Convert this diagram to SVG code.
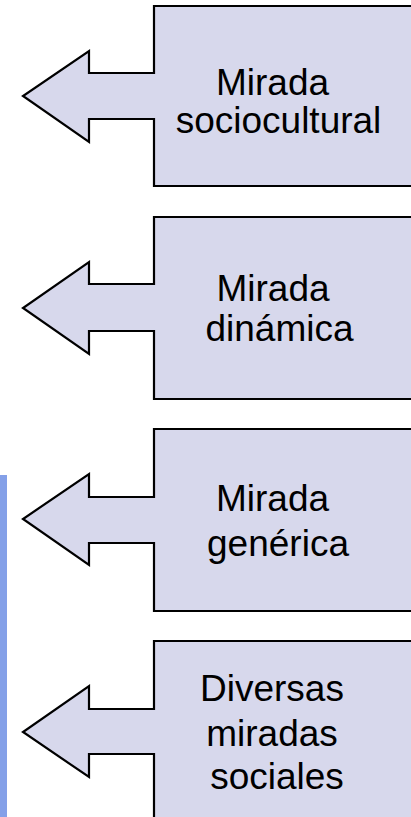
<svg xmlns="http://www.w3.org/2000/svg" width="411" height="817" viewBox="0 0 411 817">
<style>
.shape{fill:#D7D8EC;stroke:#000;stroke-width:2.2;stroke-linejoin:miter}
.lbl{font-family:"Liberation Sans",Arial,sans-serif;font-size:37px;fill:#000;text-anchor:middle}
</style>
<rect width="411" height="817" fill="#FFFFFF"/>
<rect x="0" y="475" width="7" height="342" fill="#84A0E8"/>
<g id="connectors"></g>
<g id="node1">
<path class="shape" d="M154,6 H420 V186 H154 V119 H89 V142 L23,96 L89,51 V73 H154 Z"/>
<text class="lbl" x="272.5" y="95">Mirada</text>
<text class="lbl" x="278.5" y="133">sociocultural</text>
</g>
<g id="node2">
<path class="shape" d="M154,217 H420 V399 H154 V331 H89 V354 L23,308 L89,262 V284 H154 Z"/>
<text class="lbl" x="273" y="301">Mirada</text>
<text class="lbl" x="279.5" y="341">dinámica</text>
</g>
<g id="node3">
<path class="shape" d="M154,429 H420 V611 H154 V543 H89 V565 L23,519 L89,474 V497 H154 Z"/>
<text class="lbl" x="272.5" y="511">Mirada</text>
<text class="lbl" x="278" y="556">genérica</text>
</g>
<g id="node4">
<path class="shape" d="M154,641 H420 V830 H154 V754 H89 V777 L23,732 L89,686 V709 H154 Z"/>
<text class="lbl" x="272" y="701">Diversas</text>
<text class="lbl" x="272" y="746">miradas</text>
<text class="lbl" x="277" y="789">sociales</text>
</g>
</svg>
